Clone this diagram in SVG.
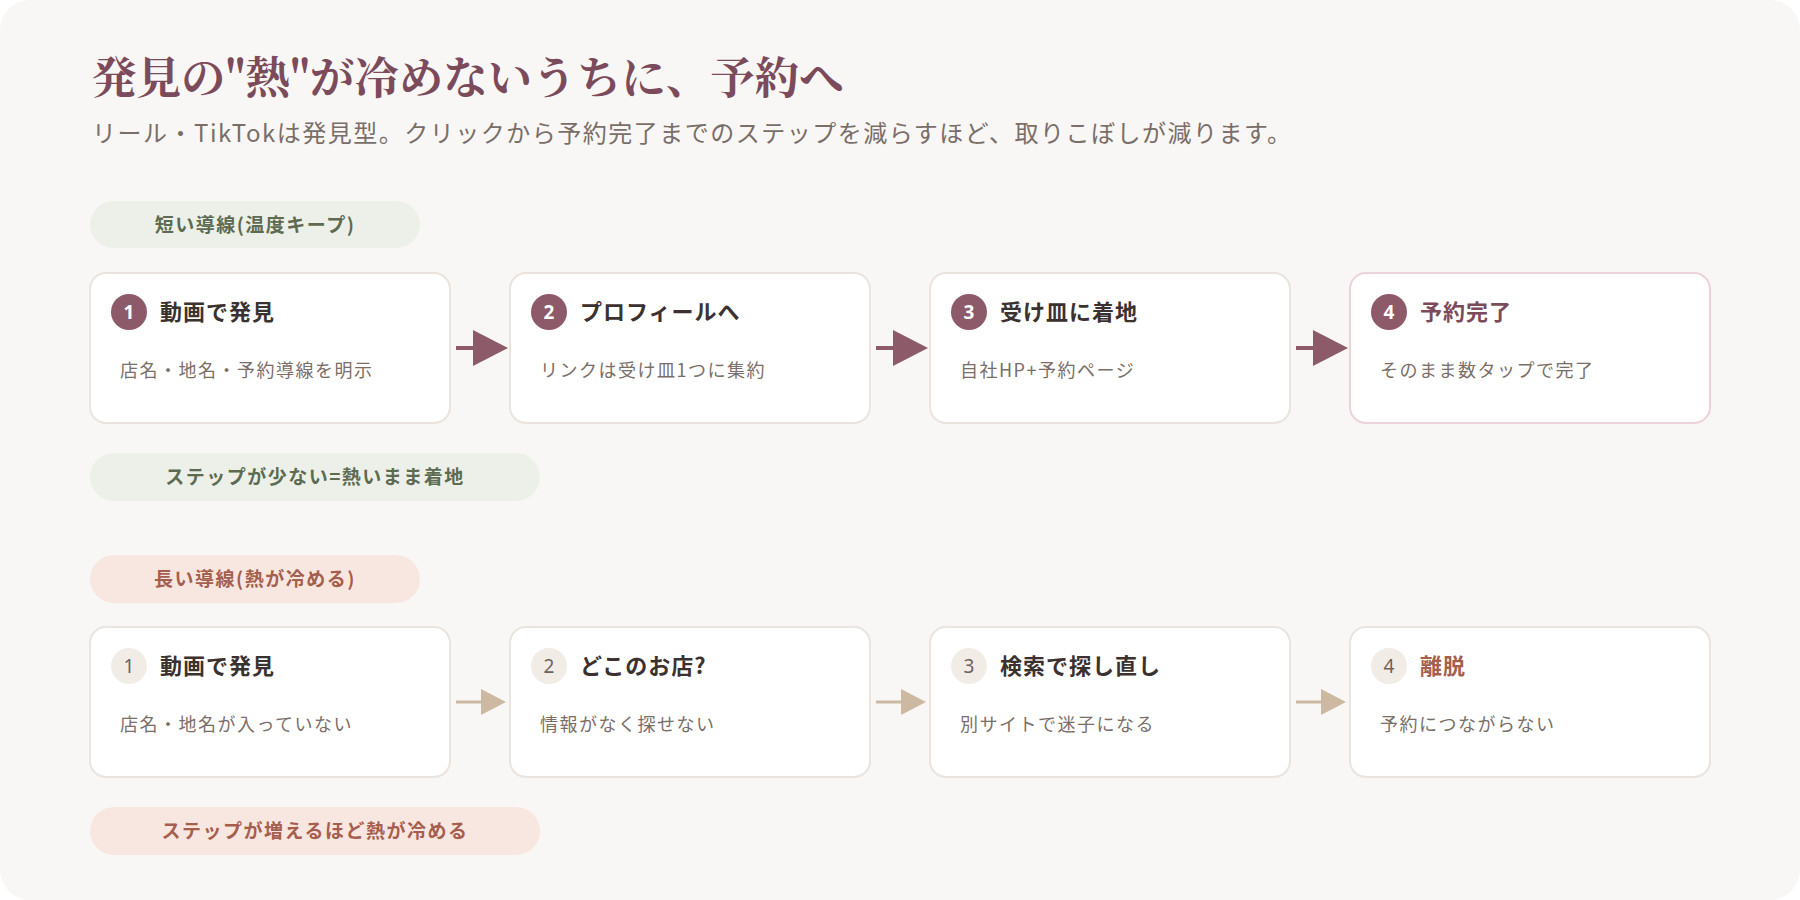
<svg xmlns="http://www.w3.org/2000/svg" width="1800" height="900" viewBox="0 0 1800 900">
<style>
.sans{font-family:"Noto Sans CJK JP","Noto Sans",sans-serif}
.ttl{font-family:"Noto Serif CJK JP","Liberation Serif","Noto Sans CJK JP",serif;font-size:44.5px;font-weight:700;fill:#7b4b5c}
.sub{font-size:24px;fill:#7a6e69;letter-spacing:1.5px}
.card{fill:#fff;stroke:#ebe3dd;stroke-width:2}
.card-hl{fill:#fff;stroke:#ecd3d9;stroke-width:2}
.h{font-size:22px;font-weight:700;fill:#3b3230;letter-spacing:1px}
.d{font-size:18px;fill:#7a6e69;letter-spacing:1.5px}
.b1{fill:#8c5a68}
.b1t{font-size:19px;font-weight:700;fill:#fff;text-anchor:middle;font-family:"Noto Sans","Liberation Sans",sans-serif}
.b2{fill:#f2ece7}
.b2t{font-size:19px;fill:#6d625d;text-anchor:middle;font-family:"Noto Sans","Liberation Sans",sans-serif}
.pg{fill:#edf0e8}
.pgt{font-size:19px;font-weight:700;fill:#5c6b52;text-anchor:middle;letter-spacing:1.5px}
.pp{fill:#f8e7e0}
.ppt{font-size:19px;font-weight:700;fill:#a65e4e;text-anchor:middle;letter-spacing:1.5px}
.a1{stroke:#8c5a68;stroke-width:4;fill:none}
.a1h{fill:#8c5a68}
.a2{stroke:#cdb8a2;stroke-width:3;fill:none}
.a2h{fill:#cdb8a2}
</style>
<rect x="0" y="0" width="1800" height="900" fill="#ffffff"/>
<rect x="0" y="0" width="1800" height="900" rx="30" fill="#f9f7f5"/>
<g id="header">
<text class="ttl" x="92" y="94">発見の"熱"が冷めないうちに、予約へ</text>
<text class="sans sub" x="92" y="142">リール・TikTokは発見型。クリックから予約完了までのステップを減らすほど、取りこぼしが減ります。</text>
</g>
<g id="label-short">
<rect class="pg" x="90" y="201" width="330" height="47" rx="23.5"/>
<text class="sans pgt" x="255" y="232">短い導線(温度キープ)</text>
</g>
<g id="s1">
<rect class="card" x="90" y="273" width="360" height="150" rx="16"/>
<circle class="b1" cx="129" cy="312" r="18"/>
<text class="b1t" x="129" y="319">1</text>
<text class="sans h" x="160" y="320">動画で発見</text>
<text class="sans d" x="120" y="377">店名・地名・予約導線を明示</text>
</g>
<g id="s2">
<rect class="card" x="510" y="273" width="360" height="150" rx="16"/>
<circle class="b1" cx="549" cy="312" r="18"/>
<text class="b1t" x="549" y="319">2</text>
<text class="sans h" x="580" y="320">プロフィールへ</text>
<text class="sans d" x="540" y="377">リンクは受け皿1つに集約</text>
</g>
<g id="s3">
<rect class="card" x="930" y="273" width="360" height="150" rx="16"/>
<circle class="b1" cx="969" cy="312" r="18"/>
<text class="b1t" x="969" y="319">3</text>
<text class="sans h" x="1000" y="320">受け皿に着地</text>
<text class="sans d" x="960" y="377">自社HP+予約ページ</text>
</g>
<g id="s4">
<rect class="card-hl" x="1350" y="273" width="360" height="150" rx="16"/>
<circle class="b1" cx="1389" cy="312" r="18"/>
<text class="b1t" x="1389" y="319">4</text>
<text class="sans h" x="1420" y="320" style="fill:#7b4b5c">予約完了</text>
<text class="sans d" x="1380" y="377">そのまま数タップで完了</text>
</g>
<g id="note-short">
<rect class="pg" x="90" y="453" width="450" height="48" rx="24"/>
<text class="sans pgt" x="315" y="484">ステップが少ない=熱いまま着地</text>
</g>
<g id="label-long">
<rect class="pp" x="90" y="555" width="330" height="48" rx="24"/>
<text class="sans ppt" x="255" y="586">長い導線(熱が冷める)</text>
</g>
<g id="l1">
<rect class="card" x="90" y="627" width="360" height="150" rx="16"/>
<circle class="b2" cx="129" cy="666" r="18"/>
<text class="b2t" x="129" y="673">1</text>
<text class="sans h" x="160" y="674">動画で発見</text>
<text class="sans d" x="120" y="731">店名・地名が入っていない</text>
</g>
<g id="l2">
<rect class="card" x="510" y="627" width="360" height="150" rx="16"/>
<circle class="b2" cx="549" cy="666" r="18"/>
<text class="b2t" x="549" y="673">2</text>
<text class="sans h" x="580" y="674">どこのお店?</text>
<text class="sans d" x="540" y="731">情報がなく探せない</text>
</g>
<g id="l3">
<rect class="card" x="930" y="627" width="360" height="150" rx="16"/>
<circle class="b2" cx="969" cy="666" r="18"/>
<text class="b2t" x="969" y="673">3</text>
<text class="sans h" x="1000" y="674">検索で探し直し</text>
<text class="sans d" x="960" y="731">別サイトで迷子になる</text>
</g>
<g id="l4">
<rect class="card" x="1350" y="627" width="360" height="150" rx="16"/>
<circle class="b2" cx="1389" cy="666" r="18"/>
<text class="b2t" x="1389" y="673">4</text>
<text class="sans h" x="1420" y="674" style="fill:#a65e4e">離脱</text>
<text class="sans d" x="1380" y="731">予約につながらない</text>
</g>
<g id="note-long">
<rect class="pp" x="90" y="807" width="450" height="48" rx="24"/>
<text class="sans ppt" x="315" y="838">ステップが増えるほど熱が冷める</text>
</g>
<g id="connectors">
<line class="a1" x1="456" y1="348" x2="476" y2="348"/>
<polygon class="a1h" points="473,330 508,348 473,366"/>
<line class="a1" x1="876" y1="348" x2="896" y2="348"/>
<polygon class="a1h" points="893,330 928,348 893,366"/>
<line class="a1" x1="1296" y1="348" x2="1316" y2="348"/>
<polygon class="a1h" points="1313,330 1348,348 1313,366"/>
<line class="a2" x1="456" y1="702" x2="483" y2="702"/>
<polygon class="a2h" points="481,689 506,702 481,715"/>
<line class="a2" x1="876" y1="702" x2="903" y2="702"/>
<polygon class="a2h" points="901,689 926,702 901,715"/>
<line class="a2" x1="1296" y1="702" x2="1323" y2="702"/>
<polygon class="a2h" points="1321,689 1346,702 1321,715"/>
</g>
</svg>
